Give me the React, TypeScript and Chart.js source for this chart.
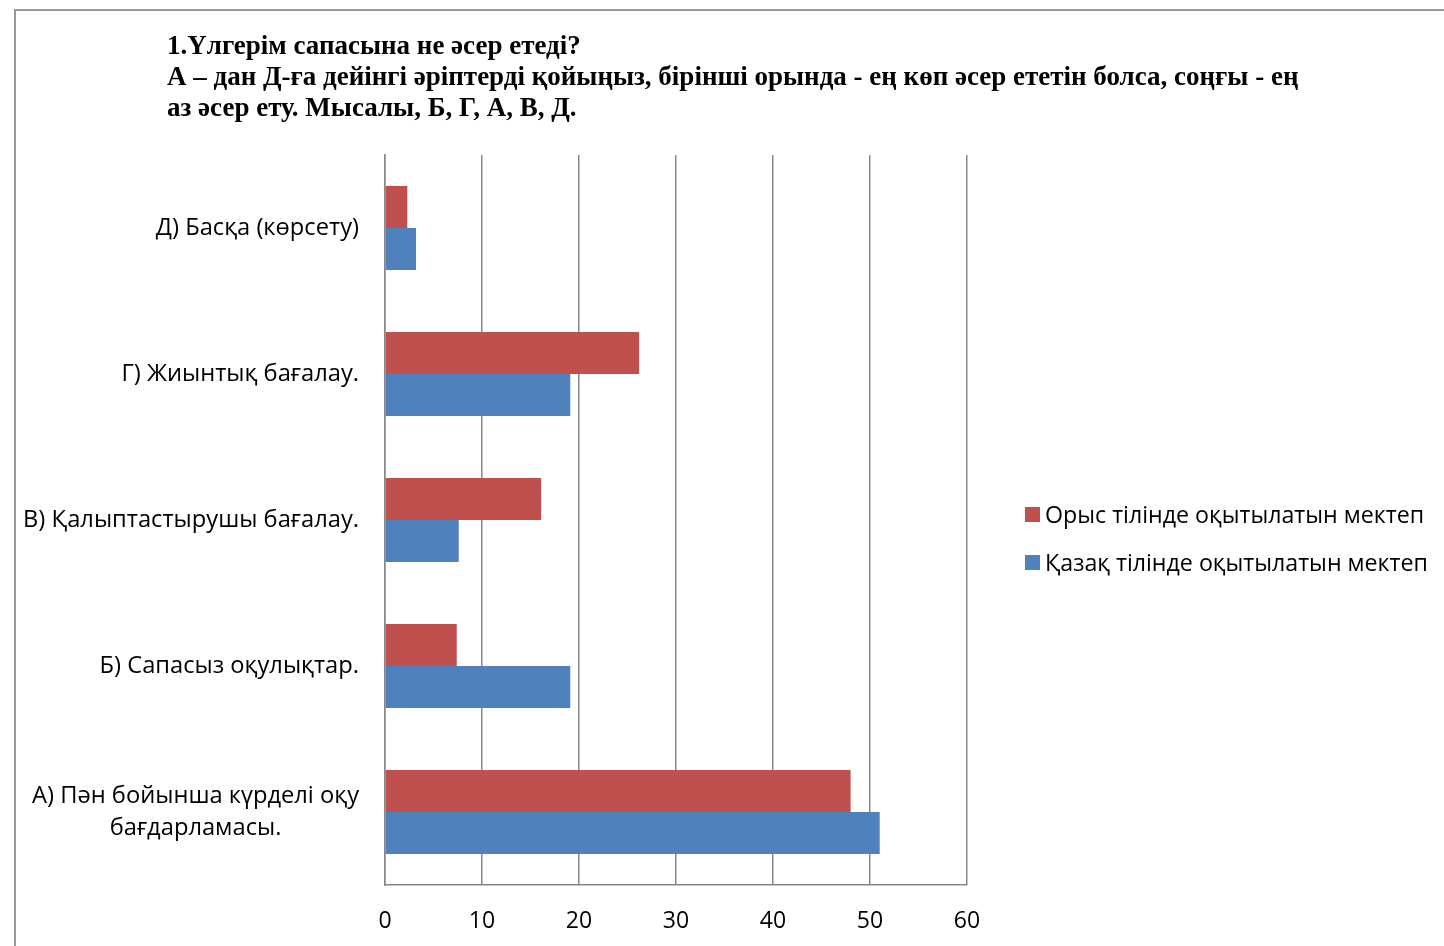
import React, { useEffect, useRef } from "react";
import { Chart, registerables } from "chart.js";

Chart.register(...registerables);

const categories: string[][] = [
  ["Д) Басқа (көрсету)"],
  ["Г) Жиынтық бағалау."],
  ["В) Қалыптастырушы бағалау."],
  ["Б) Сапасыз оқулықтар."],
  ["А) Пән бойынша күрделі оқу", "бағдарламасы."],
];
const seriesNames = ["Орыс тілінде оқытылатын мектеп", "Қазақ тілінде оқытылатын мектеп"];
const russianValues = [2.3, 26.2, 16.1, 7.4, 48.0];
const kazakhValues = [3.2, 19.1, 7.6, 19.1, 51.0];
const seriesColors = ["#C0504D", "#4F81BD"];
const xTicks = [0, 10, 20, 30, 40, 50, 60];
const titleLines = [
  "1.Үлгерім сапасына не әсер етеді?",
  "А – дан Д-ға дейінгі әріптерді қойыңыз, бірінші орында - ең көп әсер ететін болса, соңғы - ең",
  "аз әсер ету. Мысалы, Б, Г, А, В, Д.",
];

const LABEL_FONT = '23.7px "Open Sans"';

export default function App() {
  const ref = useRef<HTMLCanvasElement | null>(null);
  useEffect(() => {
    if (!ref.current) return;
    const yLabelPlugin = {
      id: "yLabels",
      afterDraw(chart: any) {
        const ctx = chart.ctx;
        const yScale = chart.scales.y;
        const right = chart.chartArea.left - 26;
        ctx.save();
        ctx.font = LABEL_FONT;
        ctx.fillStyle = "#000";
        ctx.textBaseline = "middle";
        ctx.textAlign = "center";
        const lh = 32;
        categories.forEach((lines, i) => {
          const cy = yScale.getPixelForValue(i);
          const maxW = Math.max(...lines.map((l) => ctx.measureText(l).width));
          const cx = right - maxW / 2;
          const startY = cy - ((lines.length - 1) * lh) / 2;
          lines.forEach((l, j) => ctx.fillText(l, cx, startY + j * lh));
        });
        ctx.restore();
      },
    };
    const chart = new Chart(ref.current, {
      type: "bar",
      data: {
        labels: categories.map((c) => c.join(" ")),
        datasets: [
          {
            label: seriesNames[0],
            data: russianValues,
            backgroundColor: seriesColors[0],
            categoryPercentage: 0.575,
            barPercentage: 1,
          },
          {
            label: seriesNames[1],
            data: kazakhValues,
            backgroundColor: seriesColors[1],
            categoryPercentage: 0.575,
            barPercentage: 1,
          },
        ],
      },
      options: {
        indexAxis: "y",
        animation: false,
        responsive: false,
        devicePixelRatio: 1,
        layout: { padding: { left: 20, right: 477, top: 155, bottom: 1 } },
        plugins: { legend: { display: false }, tooltip: { enabled: false }, title: { display: false } },
        scales: {
          x: {
            min: xTicks[0],
            max: xTicks[xTicks.length - 1],
            afterBuildTicks: (s: any) => {
              s.ticks = xTicks.map((v) => ({ value: v }));
            },
            afterFit: (s: any) => {
              s.height = 60;
            },
            ticks: {
              font: { family: "Open Sans", size: 23 },
              color: "#000",
              padding: 23,
            },
            grid: { color: "#878787", lineWidth: 1.5, drawTicks: false },
            border: { display: true, color: "#878787", width: 1.5 },
          },
          y: {
            afterFit: (s: any) => {
              s.width = 365;
            },
            ticks: { display: false },
            grid: { display: false },
            border: { display: true, color: "#878787", width: 1.5 },
          },
        },
      },
      plugins: [yLabelPlugin],
    } as any);
    return () => chart.destroy();
  }, []);

  return (
    <div style={{ position: "fixed", left: 0, top: 0, width: 1444, height: 946, background: "#fff", overflow: "hidden" }}>
      <div
        style={{
          position: "absolute",
          left: 14,
          top: 9,
          right: 0,
          bottom: 0,
          borderTop: "2px solid #9a9a9a",
          borderLeft: "2px solid #9a9a9a",
        }}
      />
      <canvas ref={ref} width={1444} height={946} style={{ position: "absolute", left: 0, top: 0, display: "block" }} />
      <div
        style={{
          position: "absolute",
          left: 167,
          top: 30,
          fontFamily: '"Liberation Serif", serif',
          fontWeight: "bold",
          fontSize: 27,
          lineHeight: "31px",
          color: "#000",
          whiteSpace: "nowrap",
        }}
      >
        {titleLines.map((t, i) => (
          <div key={i}>{t}</div>
        ))}
      </div>
      <div style={{ position: "absolute", left: 1025, top: 498, fontFamily: '"Open Sans"', fontSize: 23.2, color: "#000" }}>
        {seriesNames.map((n, i) => (
          <div key={i} style={{ display: "flex", alignItems: "center", height: 32, marginBottom: i === 0 ? 16 : 0 }}>
            <span style={{ display: "inline-block", width: 15, height: 15, background: seriesColors[i], marginRight: 5 }} />
            <span>{n}</span>
          </div>
        ))}
      </div>
    </div>
  );
}
